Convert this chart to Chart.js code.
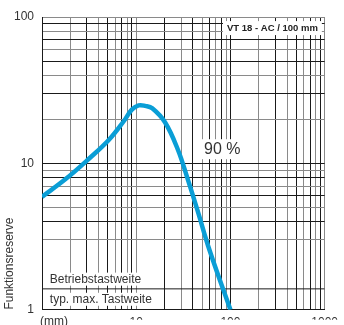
<!DOCTYPE html>
<html><head><meta charset="utf-8">
<script src="https://cdn.jsdelivr.net/npm/chart.js@4/dist/chart.umd.min.js"></script>
<style>body{margin:0;background:#fff}canvas{display:block}</style>
</head><body>
<canvas id="c" width="344" height="325"></canvas>
<script>
// Sensing distance (mm) and function reserve
const distance = [1, 1.78, 3.17, 5.14, 7.37, 8.93, 10.6, 12.5, 14.8, 20.2, 27.7, 35.2, 44.8, 59.8, 100];
const reserve  = [5.91, 7.81, 10.8, 14.5, 19.4, 23.2, 24.9, 24.7, 23.8, 19.1, 12.4, 7.81, 4.76, 2.57, 1.0];
const xGrid = [1,2,3,4,5,6,7,8,9,10,20,30,40,50,60,70,80,90,100,200,300,400,500,600,700,800,900,1000];
const yGrid = [1,3,4,5,6,7,8,9,10,20,30,40,50,60,70,80,90,100];
const xTickLabels = {10:'10', 100:'100', 1000:'1000'};
const yTickLabels = {1:'1', 10:'10', 100:'100'};
const separatorLevel = 1.39;
const titleText = 'VT 18 - AC / 100 mm';
const titlePos = [279, 84];
const seriesLabel = '90 %';
const seriesLabelPos = [82, 12.5];
const bandLabels = ['Betriebstastweite', 'typ. max. Tastweite'];
const bandLabelLevels = [1.62, 1.18];
const bandLabelX = 1.21;
const unitLabel = '(mm)';
const yTitle = 'Funktionsreserve';
const yTitleCenter = 2.07;

const FONT = "'Liberation Sans', Arial, sans-serif";
const gridColor = ctx => (ctx.index % 2 ? '#8a8a8a' : '#1a1a1a');

const annot = {
  id: 'annot',
  afterDatasetsDraw(chart) {
    const {ctx, scales: {x, y}, chartArea: ca} = chart;
    ctx.save();
    // title box
    ctx.font = 'bold 9.5px ' + FONT;
    ctx.textAlign = 'center'; ctx.textBaseline = 'middle';
    let tx = x.getPixelForValue(titlePos[0]), ty = y.getPixelForValue(titlePos[1]);
    let w = ctx.measureText(titleText).width;
    ctx.fillStyle = '#fff';
    ctx.fillRect(tx - w/2 - 4, ty - 7, w + 8, 14);
    ctx.fillStyle = '#222';
    ctx.fillText(titleText, tx, ty);
    // series label
    ctx.font = '16px ' + FONT;
    tx = x.getPixelForValue(seriesLabelPos[0]); ty = y.getPixelForValue(seriesLabelPos[1]);
    w = ctx.measureText(seriesLabel).width;
    ctx.fillStyle = '#fff';
    ctx.fillRect(tx - w/2 - 5, ty - 10, w + 10, 20);
    ctx.fillStyle = '#333';
    ctx.fillText(seriesLabel, tx, ty);
    // band labels
    ctx.font = '12px ' + FONT;
    ctx.textAlign = 'left';
    bandLabels.forEach((t, i) => {
      const bx = x.getPixelForValue(bandLabelX), by = y.getPixelForValue(bandLabelLevels[i]);
      const bw = ctx.measureText(t).width;
      ctx.fillStyle = '#fff';
      ctx.fillRect(ca.left + 1, by - 6.5, bx - ca.left + bw + 2, 13);
      ctx.fillStyle = '#333';
      ctx.fillText(t, bx, by + 0.5);
    });
    // unit label
    ctx.font = '12px ' + FONT;
    ctx.textBaseline = 'top';
    ctx.fillText(unitLabel, ca.left - 2, ca.bottom + 6);
    // y title
    ctx.translate(10, y.getPixelForValue(yTitleCenter));
    ctx.rotate(-Math.PI / 2);
    ctx.textAlign = 'center'; ctx.textBaseline = 'middle';
    ctx.fillText(yTitle, 0, 0);
    ctx.restore();
  }
};

new Chart(document.getElementById('c'), {
  type: 'line',
  data: {
    datasets: [
      {
        data: distance.map((d, i) => ({x: d, y: reserve[i]})),
        borderColor: '#0a9ed6', borderWidth: 4.5, pointRadius: 0,
        tension: 0.4, fill: false
      },
      {
        data: [{x: xGrid[0], y: separatorLevel}, {x: xGrid[xGrid.length - 1], y: separatorLevel}],
        borderColor: '#1a1a1a', borderWidth: 1, pointRadius: 0, fill: false
      }
    ]
  },
  options: {
    responsive: false, animation: false, devicePixelRatio: 1,
    layout: {padding: {top: 17, right: 15, left: 0, bottom: 0}},
    plugins: {legend: {display: false}, tooltip: {enabled: false}},
    scales: {
      x: {
        type: 'logarithmic', min: 1, max: 1000,
        afterBuildTicks: s => { s.ticks = xGrid.map(v => ({value: v})); },
        afterFit: s => { s.height = 10; },
        grid: {drawTicks: false, color: gridColor, lineWidth: 1},
        border: {display: true, color: '#1a1a1a'},
        ticks: {autoSkip: false, maxRotation: 0, padding: 6, color: '#333',
          font: {family: FONT, size: 12},
          callback: v => xTickLabels[v] ?? ''}
      },
      y: {
        type: 'logarithmic', min: 1, max: 100,
        afterBuildTicks: s => { s.ticks = yGrid.map(v => ({value: v})); },
        afterFit: s => { s.width = 42; },
        grid: {drawTicks: false, color: gridColor, lineWidth: 1},
        border: {display: true, color: '#1a1a1a'},
        ticks: {autoSkip: false, padding: 8, color: '#333',
          font: {family: FONT, size: 12},
          callback: v => yTickLabels[v] ?? ''}
      }
    }
  },
  plugins: [annot]
});
</script>
</body></html>
